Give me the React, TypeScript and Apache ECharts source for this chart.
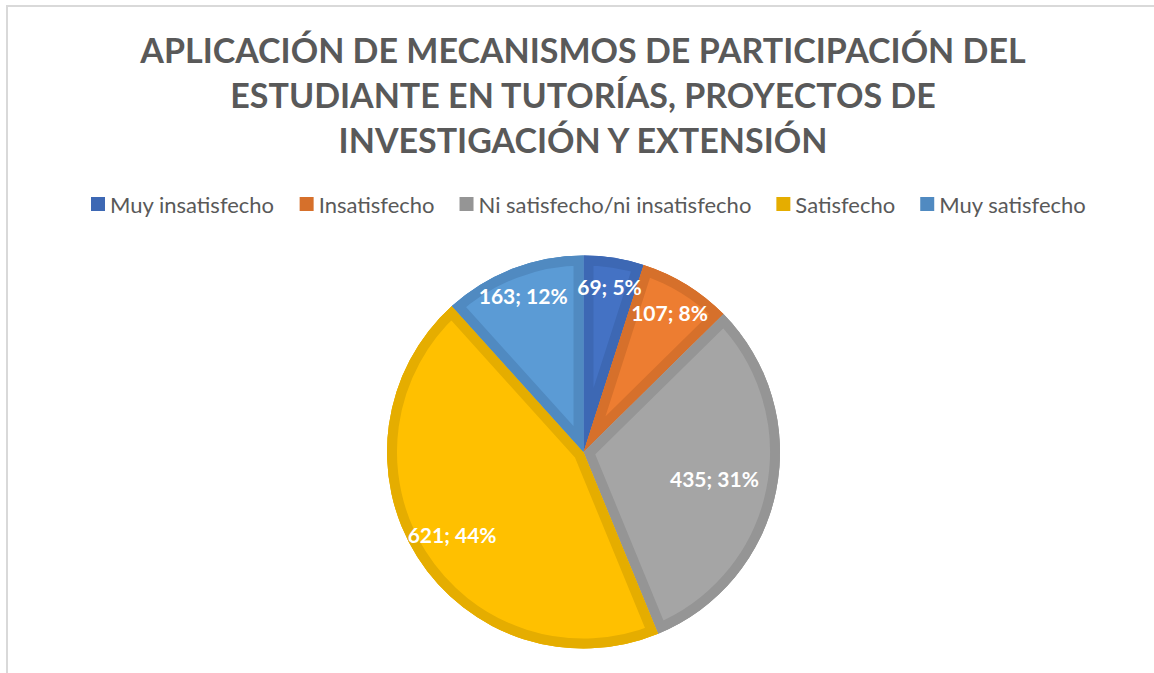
import React, { useEffect, useRef } from 'react';
import * as echarts from 'echarts';

const categories = [
  'Muy insatisfecho',
  'Insatisfecho',
  'Ni satisfecho/ni insatisfecho',
  'Satisfecho',
  'Muy satisfecho',
];
const values = [69, 107, 435, 621, 163];
const titleLines = [
  'APLICACIÓN DE MECANISMOS DE PARTICIPACIÓN DEL',
  'ESTUDIANTE EN TUTORÍAS, PROYECTOS DE',
  'INVESTIGACIÓN Y EXTENSIÓN',
];

const fillColors = ['#4472C4', '#ED7D31', '#A5A5A5', '#FFC000', '#5B9BD5'];
const edgeColors = ['#3D68B4', '#D6702B', '#959595', '#E5AD00', '#508AC1'];
const labelRadius = [0.855, 0.835, 0.68, 0.79, 0.855];

const FONT = 'Lato';
const CENTER: [number, number] = [583.5, 452];
const RADIUS = 196.5;
const BAND = 10;

// largest remainder rounding so the percentages sum to 100
function roundedPercents(vals: number[]): number[] {
  const total = vals.reduce((a, b) => a + b, 0);
  const raw = vals.map((v) => (v / total) * 100);
  const floors = raw.map((x) => Math.floor(x));
  let left = 100 - floors.reduce((a, b) => a + b, 0);
  const order = raw
    .map((x, i) => ({ i, rem: x - Math.floor(x) }))
    .sort((a, b) => b.rem - a.rem);
  const out = floors.slice();
  for (let k = 0; k < order.length && left > 0; k++, left--) out[order[k].i] += 1;
  return out;
}

export default function App() {
  const ref = useRef<HTMLDivElement>(null);

  useEffect(() => {
    if (!ref.current) return;
    const chart = echarts.init(ref.current, undefined, { renderer: 'svg' });
    const total = values.reduce((a, b) => a + b, 0);
    const pct = roundedPercents(values);
    let acc = 0;
    const sliceData = values.map((v) => {
      const item = [1, acc, acc + v];
      acc += v;
      return item;
    });

    const angleOf = (p: number[], cx: number, cy: number) => Math.atan2(p[1] - cy, p[0] - cx);

    chart.setOption({
      animation: false,
      backgroundColor: '#ffffff',
      title: {
        text: titleLines.join('\n'),
        left: 578,
        top: 22,
        textAlign: 'center',
        textStyle: {
          fontFamily: FONT,
          fontWeight: 'bold',
          fontSize: 34,
          color: '#595959',
          lineHeight: 45,
        },
      },
      legend: {
        data: categories.map((n, i) => ({ name: n, itemStyle: { color: edgeColors[i] } })),
        left: 91,
        top: 193,
        padding: 0,
        icon: 'rect',
        itemWidth: 14,
        itemHeight: 14,
        itemGap: 25,
        selectedMode: false,
        textStyle: { fontFamily: FONT, fontSize: 22, color: '#595959', padding: [0, 0, 0, 0] },
      },
      polar: { center: CENTER, radius: RADIUS },
      angleAxis: { show: false, type: 'value', min: 0, max: total, startAngle: 90, clockwise: true },
      radiusAxis: { show: false, type: 'value', min: 0, max: 1 },
      graphic: [
        {
          type: 'rect',
          silent: true,
          shape: { x: 7, y: 6, width: 1200, height: 700 },
          style: { fill: 'none', stroke: '#D9D9D9', lineWidth: 2 },
        },
      ],
      series: [
        {
          type: 'pie',
          name: 'base',
          center: CENTER,
          radius: RADIUS,
          startAngle: 90,
          clockwise: true,
          silent: true,
          z: 1,
          label: { show: false },
          labelLine: { show: false },
          emphasis: { disabled: true },
          itemStyle: { borderWidth: 0 },
          data: categories.map((n, i) => ({
            name: n,
            value: values[i],
            itemStyle: { color: edgeColors[i] },
          })),
        },
        {
          type: 'custom',
          name: 'slices',
          coordinateSystem: 'polar',
          silent: true,
          clip: false,
          z: 2,
          data: sliceData,
          renderItem: (params: any, api: any) => {
            const cs = params.coordSys;
            const cx = cs.cx;
            const cy = cs.cy;
            const i = params.dataIndex;
            const p0 = api.coord([1, api.value(1)]);
            const p1 = api.coord([1, api.value(2)]);
            const r = Math.hypot(p0[0] - cx, p0[1] - cy);
            const a0 = angleOf(p0, cx, cy);
            let a1 = angleOf(p1, cx, cy);
            while (a1 <= a0) a1 += Math.PI * 2;
            const shape = { cx, cy, r0: 0, r, startAngle: a0, endAngle: a1, clockwise: true };
            return {
              type: 'sector',
              shape,
              style: { fill: fillColors[i], stroke: edgeColors[i], lineWidth: BAND * 2 },
              clipPath: { type: 'sector', shape: { ...shape } },
            };
          },
        },
        {
          type: 'custom',
          name: 'labels',
          coordinateSystem: 'polar',
          silent: true,
          clip: false,
          z: 3,
          data: sliceData,
          renderItem: (params: any, api: any) => {
            const i = params.dataIndex;
            const mid = (api.value(1) + api.value(2)) / 2;
            const p = api.coord([labelRadius[i], mid]);
            return {
              type: 'text',
              x: p[0],
              y: p[1],
              style: {
                text: `${values[i]}; ${pct[i]}%`,
                fill: '#ffffff',
                fontFamily: FONT,
                fontWeight: 'bold',
                fontSize: 21,
                align: 'center',
                verticalAlign: 'middle',
                textAlign: 'center',
                textVerticalAlign: 'middle',
              },
            };
          },
        },
      ],
    });
    return () => chart.dispose();
  }, []);

  return (
    <div
      ref={ref}
      style={{ position: 'absolute', left: 0, top: 0, width: 1154, height: 673 }}
    />
  );
}
